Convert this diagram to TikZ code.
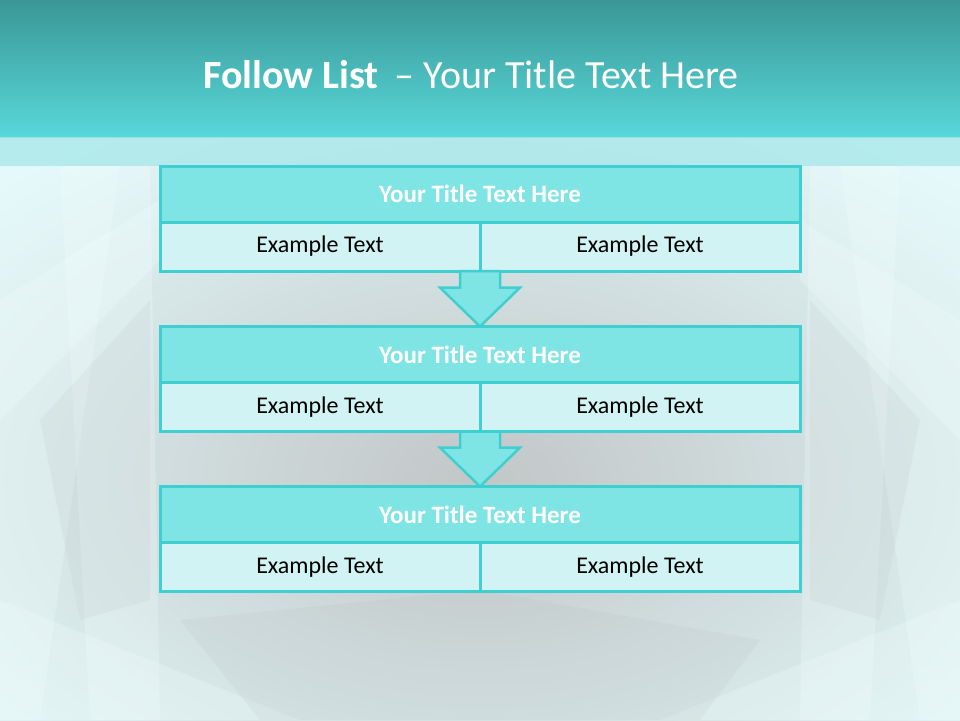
\documentclass[tikz,border=0pt]{standalone}
\usepackage{fontspec}
\setmainfont{Carlito}
\usetikzlibrary{calc}
\definecolor{bordc}{HTML}{40CFD0}
\definecolor{titlefill}{HTML}{7FE4E4}
\definecolor{cellfill}{HTML}{D2F3F3}
\definecolor{headtop}{HTML}{3B9797}
\definecolor{headbot}{HTML}{58D8D9}
\definecolor{bandc}{HTML}{A6E7E9}
\definecolor{bgcenter}{HTML}{C2C6C7}
\definecolor{bgedge}{HTML}{E2F8F9}
\definecolor{streak}{HTML}{F2FEFE}
\tikzset{
  titlerow/.style={draw=bordc, line width=3pt, fill=titlefill, minimum width=640pt, minimum height=56pt,
    inner sep=0pt, outer sep=0pt, text=white, font=\fontsize{25}{30}\selectfont\bfseries},
  cellbox/.style={draw=bordc, line width=3pt, fill=cellfill, minimum width=320pt, minimum height=49pt,
    inner sep=0pt, outer sep=0pt, text=black, font=\fontsize{24}{28}\selectfont},
  flowarrow/.style={draw=bordc, line width=2.5pt, fill=titlefill, line join=miter},
  streakshape/.style={fill=streak, fill opacity=0.25, draw=none},
  greyshape/.style={fill=bgcenter!80!black, fill opacity=0.08, draw=none}
}
\begin{document}
\begin{tikzpicture}[x=1pt, y=-1pt]
\useasboundingbox (0,0) rectangle (960,720);
% background
\shade[inner color=bgcenter, outer color=bgedge] (-200,60) rectangle (1160,900);
\fill[streakshape] (0,166) -- (120,166) -- (40,720) -- (0,720) -- cycle;
\fill[streakshape] (60,166) -- (150,166) -- (160,720) -- (90,720) -- cycle;
\fill[streakshape] (0,300) -- (160,200) -- (160,260) -- (0,420) -- cycle;
\fill[streakshape] (960,166) -- (840,166) -- (920,720) -- (960,720) -- cycle;
\fill[streakshape] (900,166) -- (810,166) -- (800,720) -- (870,720) -- cycle;
\fill[streakshape] (960,320) -- (800,220) -- (800,280) -- (960,440) -- cycle;
\fill[streakshape] (0,600) -- (300,720) -- (0,720) -- cycle;
\fill[streakshape] (960,600) -- (660,720) -- (960,720) -- cycle;
\fill[greyshape] (180,620) -- (480,590) -- (760,640) -- (700,720) -- (260,720) -- cycle;
\fill[greyshape] (40,420) -- (150,300) -- (150,600) -- (80,620) -- cycle;
\fill[greyshape] (920,420) -- (810,300) -- (810,600) -- (880,620) -- cycle;
% header
\shade[top color=headtop, bottom color=headbot] (0,0) rectangle (960,137);
\fill[bandc, fill opacity=0.75] (0,137) rectangle (960,166);
\node[anchor=base, text=white, font=\fontsize{40}{44}\selectfont, inner sep=0pt] (title) at (471,88)
  {\textbf{Follow List}\hspace{0.4em}– Your Title Text Here};
% box 1
\node[titlerow] (t1) at (480,194) {Your Title Text Here};
\node[cellbox, anchor=north west] (a1) at (t1.south west) {Example Text};
\node[cellbox, anchor=north east] (b1) at (t1.south east) {Example Text};
% box 2
\node[titlerow] (t2) at (480,354.5) {Your Title Text Here};
\node[cellbox, anchor=north west] (a2) at (t2.south west) {Example Text};
\node[cellbox, anchor=north east] (b2) at (t2.south east) {Example Text};
% box 3
\node[titlerow] (t3) at (480,514.5) {Your Title Text Here};
\node[cellbox, anchor=north west] (a3) at (t3.south west) {Example Text};
\node[cellbox, anchor=north east] (b3) at (t3.south east) {Example Text};
% arrows
\draw[flowarrow] ($(a1.south east)+(-20,0)$) -- ($(t2.north)+(-20,-39)$) -- ($(t2.north)+(-40,-39)$)
  -- (t2.north) -- ($(t2.north)+(40,-39)$) -- ($(t2.north)+(20,-39)$) -- ($(a1.south east)+(20,0)$) -- cycle;
\draw[flowarrow] ($(a2.south east)+(-20,0)$) -- ($(t3.north)+(-20,-39)$) -- ($(t3.north)+(-40,-39)$)
  -- (t3.north) -- ($(t3.north)+(40,-39)$) -- ($(t3.north)+(20,-39)$) -- ($(a2.south east)+(20,0)$) -- cycle;
\end{tikzpicture}
\end{document}
